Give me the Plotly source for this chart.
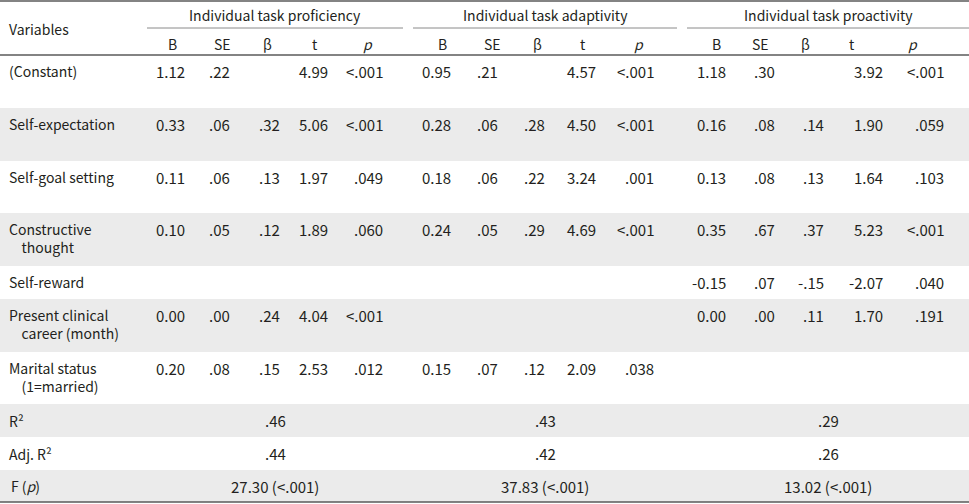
import plotly.graph_objects as go

# ---------------- data ----------------
groups = ["Individual task proficiency", "Individual task adaptivity", "Individual task proactivity"]
stat_cols = ["B", "SE", "β", "t", "<i>p</i>"]

row_labels = [
    ["(Constant)"],
    ["Self-expectation"],
    ["Self-goal setting"],
    ["Constructive", "thought"],
    ["Self-reward"],
    ["Present clinical", "career (month)"],
    ["Marital status", "(1=married)"],
]

proficiency = [
    ["1.12", ".22", "", "4.99", "<.001"],
    ["0.33", ".06", ".32", "5.06", "<.001"],
    ["0.11", ".06", ".13", "1.97", ".049"],
    ["0.10", ".05", ".12", "1.89", ".060"],
    ["", "", "", "", ""],
    ["0.00", ".00", ".24", "4.04", "<.001"],
    ["0.20", ".08", ".15", "2.53", ".012"],
]
adaptivity = [
    ["0.95", ".21", "", "4.57", "<.001"],
    ["0.28", ".06", ".28", "4.50", "<.001"],
    ["0.18", ".06", ".22", "3.24", ".001"],
    ["0.24", ".05", ".29", "4.69", "<.001"],
    ["", "", "", "", ""],
    ["", "", "", "", ""],
    ["0.15", ".07", ".12", "2.09", ".038"],
]
proactivity = [
    ["1.18", ".30", "", "3.92", "<.001"],
    ["0.16", ".08", ".14", "1.90", ".059"],
    ["0.13", ".08", ".13", "1.64", ".103"],
    ["0.35", ".67", ".37", "5.23", "<.001"],
    ["-0.15", ".07", "-.15", "-2.07", ".040"],
    ["0.00", ".00", ".11", "1.70", ".191"],
    ["", "", "", "", ""],
]

summary_labels = ["R²", "Adj. R²", "F (<i>p</i>)"]
r2 = [".46", ".43", ".29"]
adj_r2 = [".44", ".42", ".26"]
f_p = ["27.30 (<.001)", "37.83 (<.001)", "13.02 (<.001)"]

# ---------------- layout geometry ----------------
W, H = 969, 504
FONT = "Noto Sans CJK KR"
FS_LAB = 14
FS_NUM = 15
TXT = "#231f20"
GREY = "#ebebeb"
LINE = "#5a5a5a"

group_spans = [(147, 403), (413, 677), (687, 969)]
col_header_x = [[172, 222, 267, 315, 368], [442, 492, 537, 583, 639], [716, 760, 805, 852, 913]]
col_right_x = [[187, 232, 282, 330, 385], [453, 500, 547, 598, 656], [728, 777, 826, 885, 946]]

row_heights = [53, 53, 52, 53, 33, 53, 52, 33, 33, 32]
header_bottom = 55
INDENT = "\u00a0" * 4

fig = go.Figure()
fig.add_trace(go.Scatter(x=[0, W], y=[0, H], mode="markers", marker=dict(opacity=0),
                         hoverinfo="skip", showlegend=False))

shapes = []
annotations = []

def text(x, y, s, anchor="left", size=FS_LAB):
    annotations.append(dict(x=x, y=y, xref="x", yref="y", text=s, showarrow=False,
                            xanchor=anchor, yanchor="middle", align="left",
                            font=dict(family=FONT, size=size, color=TXT)))

# row backgrounds
tops = []
t = header_bottom
for h in row_heights:
    tops.append(t)
    t += h
bottom = t
for i, (top, h) in enumerate(zip(tops, row_heights)):
    if i % 2 == 1:
        shapes.append(dict(type="rect", xref="x", yref="y", x0=0, x1=W, y0=top, y1=top + h,
                           fillcolor=GREY, line=dict(width=0), layer="below"))

# lines
for yy in (1, header_bottom, bottom):
    shapes.append(dict(type="line", xref="x", yref="y", x0=0, x1=W, y0=yy, y1=yy,
                       line=dict(color=LINE, width=1.5)))
for (a, b) in group_spans:
    shapes.append(dict(type="line", xref="x", yref="y", x0=a, x1=b, y0=28, y1=28,
                       line=dict(color="#8a8a8a", width=1)))

# headers
text(7, 29, "Variables")
for g, (a, b) in zip(groups, group_spans):
    text((a + b) / 2, 15, g, "center")
for gi in range(3):
    for ci, c in enumerate(stat_cols):
        text(col_header_x[gi][ci], 44, c, "center")

# body rows
datasets = [proficiency, adaptivity, proactivity]
for r, lab in enumerate(row_labels):
    y0 = tops[r] + 16
    if len(lab) > 1:
        text(7, tops[r] + 25, lab[0] + "<br>" + INDENT + lab[1])
    else:
        text(7, y0, lab[0])
    for gi, ds in enumerate(datasets):
        for ci, v in enumerate(ds[r]):
            if v:
                text(col_right_x[gi][ci], y0, v, "right", FS_NUM)

# summary rows
base = len(row_labels)
summ_vals = [r2, adj_r2, f_p]
for k, (lab, vals) in enumerate(zip(summary_labels, summ_vals)):
    r = base + k
    yc = tops[r] + row_heights[r] / 2
    text(7 if k < 2 else 9, yc, lab)
    for gi, v in enumerate(vals):
        a, b = group_spans[gi]
        text((a + b) / 2, yc, v, "center", FS_NUM)

fig.update_layout(
    width=W, height=H, margin=dict(l=0, r=0, t=0, b=0),
    paper_bgcolor="white", plot_bgcolor="white",
    xaxis=dict(range=[0, W], visible=False, fixedrange=True),
    yaxis=dict(range=[H, 0], visible=False, fixedrange=True),
    shapes=shapes, annotations=annotations, showlegend=False,
)
fig.write_html("out.html", config={"displayModeBar": False},
               post_script="document.body.style.margin='0';document.body.style.overflow='hidden';")
